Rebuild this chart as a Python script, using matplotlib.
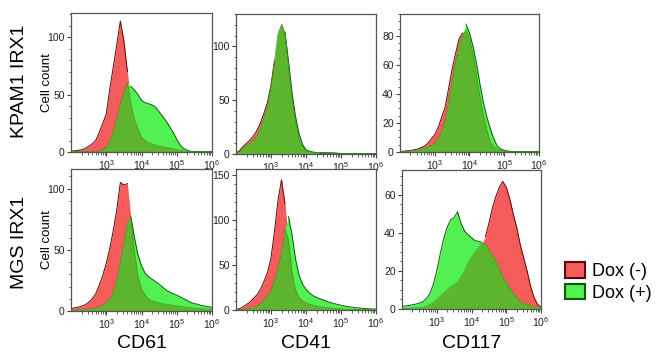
import numpy as np
import matplotlib
matplotlib.use("Agg")
import matplotlib.pyplot as plt
from matplotlib.patches import Patch
from matplotlib.ticker import MultipleLocator, LogLocator, NullFormatter

plt.rcParams["font.family"] = ["Liberation Sans", "DejaVu Sans"]

# histogram bin centres, log10 of fluorescence intensity
log_bins = np.linspace(2.0, 6.0, 41)

rows = ["KPAM1 IRX1", "MGS IRX1"]
markers = ["CD61", "CD41", "CD117"]
legend_labels = ["Dox (-)", "Dox (+)"]

# KPAM1 IRX1 -- CD61
kpam_cd61_dox_neg = [1, 1, 1.5, 2, 3, 5, 7, 10, 17, 25, 33, 55, 74, 94, 114, 97, 70, 42, 28, 20,
                     13, 10, 8, 7, 6, 5, 4.5, 4, 3.5, 3, 2, 1.5, 1, 0.5, 0.5, 0.3, 0.3, 0.3, 0.3, 0.3, 0.3]
kpam_cd61_dox_pos = [0.5, 0.5, 0.5, 0.5, 0.5, 0.5, 0.5, 0.5, 1, 2, 4, 9, 18, 28, 42, 52, 60, 57, 54, 50,
                     45, 43, 42, 41, 39, 35, 31, 27, 22, 17, 11, 6, 3, 1.5, 0.5, 0.3, 0.3, 0.3, 0.3, 0.3, 0.3]
# KPAM1 IRX1 -- CD41
kpam_cd41_dox_neg = [1, 3, 7, 10, 13, 17, 22, 29, 38, 48, 64, 87, 112, 122, 112, 82, 52, 30, 15, 7,
                     3, 2, 1.5, 1, 1, 1, 1, 0.8, 0.8, 0.6, 0.5, 0.3, 0.3, 0.3, 0.3, 0.3, 0.3, 0.3, 0.3, 0.3, 0.3]
kpam_cd41_dox_pos = [1, 2, 5, 8, 10, 13, 17, 24, 34, 45, 62, 86, 113, 120, 113, 86, 57, 35, 19, 9,
                     4, 2.5, 1.8, 1.3, 1, 1, 1, 0.8, 0.8, 0.6, 0.5, 0.3, 0.3, 0.3, 0.3, 0.3, 0.3, 0.3, 0.3, 0.3, 0.3]
# KPAM1 IRX1 -- CD117
kpam_cd117_dox_neg = [0.3, 0.5, 0.8, 1, 1.5, 2, 3, 4, 6, 9, 12, 17, 24, 31, 44, 57, 68, 78, 82, 84,
                      78, 67, 53, 38, 25, 15, 7, 3.5, 2, 1.2, 0.8, 0.5, 0.3, 0.3, 0.3, 0.3, 0.3, 0.3, 0.3, 0.3, 0.3]
kpam_cd117_dox_pos = [0.3, 0.4, 0.5, 0.7, 1, 1.5, 2, 2.5, 3.5, 4.5, 6, 9, 14, 21, 34, 48, 62, 73, 80, 88,
                      82, 73, 61, 47, 34, 24, 16, 9, 4, 2, 1.2, 0.7, 0.3, 0.3, 0.3, 0.3, 0.3, 0.3, 0.3, 0.3, 0.3]
# MGS IRX1 -- CD61
mgs_cd61_dox_neg = [2, 2.5, 3, 4, 5, 7, 10, 14, 21, 29, 39, 51, 66, 83, 105, 103, 104, 75, 48, 28,
                    18, 13, 10, 8.5, 7.5, 6.8, 6, 5.4, 5, 4.6, 4.2, 3.8, 3.4, 3, 2.7, 2.4, 2.1, 1.9, 1.7, 1.5, 1.4]
mgs_cd61_dox_pos = [0.5, 0.6, 0.8, 1, 1.2, 1.5, 2, 2.5, 3, 5, 7, 9, 16, 25, 40, 55, 72, 77, 60, 46,
                    37, 31, 28, 26, 24, 22, 19.5, 17, 15.5, 14, 13, 11.5, 10, 8.5, 7, 6, 5.5, 4.5, 4, 3.5, 3]
# MGS IRX1 -- CD41
mgs_cd41_dox_neg = [0.5, 1.5, 3.5, 6, 9, 13, 17, 23, 32, 42, 58, 88, 122, 145, 118, 78, 42, 22, 14, 10,
                    8, 6.5, 5.5, 4.5, 3.8, 3.2, 2.7, 2.3, 2, 1.6, 1.3, 1, 0.8, 0.7, 0.6, 0.5, 0.4, 0.4, 0.4, 0.4, 0.4]
mgs_cd41_dox_pos = [0.3, 0.5, 0.8, 1.2, 2, 3, 4.5, 7, 11, 16, 21, 33, 46, 64, 90, 104, 84, 57, 39, 29,
                    23, 19, 16, 14, 12.5, 11, 9.5, 8.3, 7.2, 6.2, 5.3, 4.5, 3.8, 3.2, 2.7, 2.2, 1.9, 1.6, 1.3, 1.1, 1]
# MGS IRX1 -- CD117
mgs_cd117_dox_neg = [0.3, 0.3, 0.4, 0.5, 0.6, 0.8, 1, 1.4, 2.2, 3.5, 5, 6.5, 8.5, 10, 11.5, 12.8, 14, 17, 20, 24,
                     27, 30, 32, 34.5, 38, 45, 53, 59, 64, 67, 64, 58, 50, 43, 34, 27, 20, 12, 6, 2.5, 1]
mgs_cd117_dox_pos = [1.4, 1.6, 1.9, 2.2, 2.6, 3.1, 3.8, 5.5, 8, 13, 20, 29, 37, 43, 47, 48, 51, 45, 41, 39,
                     37.5, 36, 35.5, 35, 34, 31, 28, 25, 21, 17, 13.6, 11, 8.4, 6, 4, 3, 2.3, 1.8, 1.4, 1, 0.8]

panel_data = [
    [(kpam_cd61_dox_neg, kpam_cd61_dox_pos), (kpam_cd41_dox_neg, kpam_cd41_dox_pos),
     (kpam_cd117_dox_neg, kpam_cd117_dox_pos)],
    [(mgs_cd61_dox_neg, mgs_cd61_dox_pos), (mgs_cd41_dox_neg, mgs_cd41_dox_pos),
     (mgs_cd117_dox_neg, mgs_cd117_dox_pos)],
]
y_limits = [[121, 130, 95], [116, 157, 73]]
y_major = [[50, 50, 20], [50, 50, 20]]
y_minor = [[10, 10, 5], [10, 10, 5]]

RED = "#f45b5b"
RED_EDGE = "#5a0a0a"
GREEN = "#52f052"
GREEN_EDGE = "#0d5a0d"
OVERLAP = "#5cb52c"

W, H = 657, 354
fig = plt.figure(figsize=(W / 100, H / 100), dpi=100)

# axes boxes in pixels: left, top, right, bottom
boxes = [
    [(71, 13, 212, 152), (236, 14, 376, 154), (400, 14, 539, 152)],
    [(71, 169, 212, 311), (236, 169, 376, 310), (402, 170, 541, 309)],
]

x = 10 ** log_bins
for r in range(2):
    for c in range(3):
        l, t, rr, b = boxes[r][c]
        ax = fig.add_axes([l / W, 1 - b / H, (rr - l) / W, (b - t) / H])
        neg = np.array(panel_data[r][c][0], dtype=float)
        pos = np.array(panel_data[r][c][1], dtype=float)
        both = np.minimum(neg, pos)
        ax.fill_between(x, 0, neg, color=RED, lw=0)
        ax.fill_between(x, 0, pos, color=GREEN, lw=0)
        ax.fill_between(x, 0, both, color=OVERLAP, lw=0)
        ax.plot(x, np.where(neg >= pos, neg, np.nan), color=RED_EDGE, lw=0.7)
        ax.plot(x, np.where(pos >= neg, pos, np.nan), color=GREEN_EDGE, lw=0.7)
        ax.plot(x, both, color="#3f9a1c", lw=0.5)

        ax.set_xscale("log")
        ax.set_xlim(1e2, 1e6)
        ax.set_ylim(0, y_limits[r][c])
        ax.set_xticks([1e3, 1e4, 1e5, 1e6])
        ax.xaxis.set_minor_locator(LogLocator(base=10, subs=np.arange(2, 10), numticks=20))
        ax.xaxis.set_minor_formatter(NullFormatter())
        ax.yaxis.set_major_locator(MultipleLocator(y_major[r][c]))
        ax.yaxis.set_minor_locator(MultipleLocator(y_minor[r][c]))
        ax.tick_params(which="both", direction="out", color="#444444", labelsize=7.5,
                       labelcolor="#222222", pad=1.5)
        ax.tick_params(which="major", length=3, width=0.8)
        ax.tick_params(which="minor", length=1.8, width=0.6)
        for s in ax.spines.values():
            s.set_color("#555555")
            s.set_linewidth(0.9)

        if c == 0:
            fig.text(47.5 / W, 1 - (t + b) / 2 / H, "Cell count", rotation=90, fontsize=9.5,
                     ha="center", va="center")
        if r == 1:
            fig.text((l + rr) / 2 / W, 1 - 344 / H, markers[c], fontsize=14,
                     ha="center", va="center")

fig.text(20 / W, 1 - 81 / H, rows[0], rotation=90, fontsize=14, ha="center", va="center")
fig.text(20 / W, 1 - 242 / H, rows[1], rotation=90, fontsize=14, ha="center", va="center")

handles = [Patch(facecolor=RED, edgecolor=RED_EDGE, lw=1.5),
           Patch(facecolor=GREEN, edgecolor=GREEN_EDGE, lw=1.5)]
fig.legend(handles, legend_labels, loc="center left", bbox_to_anchor=(565 / W, 1 - 282 / H),
           frameon=False, fontsize=13, handlelength=1.1, handleheight=0.95,
           handletextpad=0.4, labelspacing=0.2, borderpad=0, borderaxespad=0)

fig.savefig("out.png", dpi=100)
